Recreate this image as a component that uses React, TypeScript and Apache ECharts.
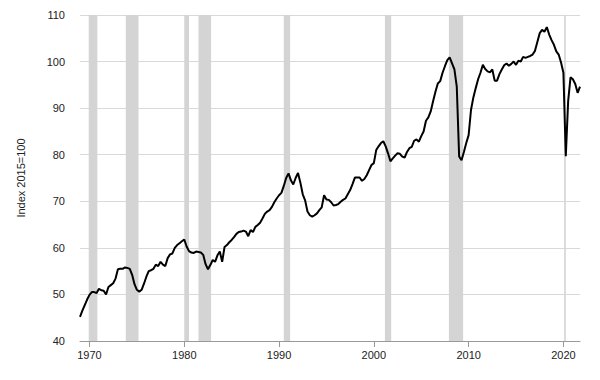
import React, { useEffect, useRef } from "react";
import * as echarts from "echarts";

// Quarterly index values (2015=100), first quarter 1969 Q1
const startYear = 1969;
const values: number[] = [
  45.2, 46.5, 47.7, 48.9,
  49.9, 50.5, 50.5, 50.3,
  51.2, 50.9, 50.8, 50.0,
  51.6, 52.0, 52.4, 53.4,
  55.4, 55.5, 55.5, 55.8,
  55.7, 55.5, 54.2, 52.2,
  51.0, 50.6, 51.0, 52.3,
  53.8, 55.0, 55.2, 55.5,
  56.4, 56.1, 57.0, 56.4,
  56.1, 57.8, 58.6, 58.8,
  60.0, 60.6, 61.0, 61.4,
  61.8, 60.3, 59.3, 59.0,
  58.9, 59.2, 59.1, 59.0,
  58.5, 56.5, 55.4, 56.3,
  57.4, 57.0, 58.4, 59.2,
  57.0, 60.2, 60.6, 61.2,
  61.7, 62.3, 63.0, 63.4,
  63.5, 63.7, 63.5, 62.5,
  63.8, 63.4, 64.5, 64.9,
  65.4, 66.3, 67.3, 67.8,
  68.1, 68.8, 69.8, 70.6,
  71.3, 71.8, 73.3, 75.0,
  76.0, 74.5, 73.6, 75.0,
  76.1, 74.0, 71.5, 70.2,
  67.8, 67.0, 66.7, 67.0,
  67.4, 68.1, 68.7, 71.3,
  70.4, 70.3, 69.8, 69.1,
  69.2, 69.4, 69.9, 70.3,
  70.6, 71.5, 72.4, 73.7,
  75.1, 75.1, 75.1, 74.4,
  74.8, 75.6, 76.7, 77.8,
  78.2, 81.0, 81.8, 82.5,
  82.9, 81.8, 80.3, 78.6,
  79.2, 79.8, 80.3, 80.2,
  79.6, 79.4, 80.6, 81.4,
  81.7, 83.0, 83.3, 82.8,
  84.0, 85.0, 87.3, 88.0,
  89.3, 91.5, 93.5, 95.3,
  95.8, 97.6, 99.0, 100.3,
  100.9, 99.6, 98.3, 94.6,
  79.6, 78.8, 80.6, 82.5,
  84.2, 89.6, 92.3, 94.3,
  96.2, 97.6, 99.3, 98.4,
  97.9, 97.7, 98.3, 95.9,
  95.9, 97.3, 98.3, 99.2,
  99.6, 99.1, 99.5, 100.0,
  99.3, 100.2, 100.0, 101.0,
  100.8, 101.0, 101.2, 101.5,
  102.3, 104.2, 106.1, 106.8,
  106.4, 107.4, 105.8, 104.6,
  103.6, 102.2, 101.5, 99.8,
  97.6, 79.7, 91.5, 96.6,
  96.2, 95.2, 93.3, 94.6,
];

// Recession periods (decimal years)
const recessionStarts = [1969.92, 1973.83, 1980.0, 1981.5, 1990.5, 2001.17, 2007.92, 2020.08];
const recessionEnds = [1970.83, 1975.17, 1980.5, 1981.5 + 1.33, 1991.17, 2001.83, 2009.42, 2020.25];

const xTicks = [1970, 1980, 1990, 2000, 2010, 2020];
const yAxisName = "Index 2015=100";

export default function App() {
  const ref = useRef<HTMLDivElement>(null);
  useEffect(() => {
    document.body.style.margin = "0";
    if (!ref.current) return;
    const chart = echarts.init(ref.current, undefined, { renderer: "svg" });
    const data = values.map((v, i) => [startYear + i * 0.25, v]);
    const areas = recessionStarts.map((s, i) => [{ xAxis: s }, { xAxis: recessionEnds[i] }]);
    chart.setOption({
      animation: false,
      backgroundColor: "#ffffff",
      grid: { left: 80, right: 20, top: 15, bottom: 39, containLabel: false },
      xAxis: {
        type: "value",
        min: startYear,
        max: startYear + (values.length - 1) * 0.25,
        splitLine: { show: false },
        axisLine: { show: true, lineStyle: { color: "#999999", width: 1 } },
        axisTick: {
          show: true,
          customValues: xTicks,
          length: 6,
          lineStyle: { color: "#999999" },
        },
        axisLabel: {
          customValues: xTicks,
          formatter: (v: number) => String(Math.round(v)),
          fontFamily: "Liberation Sans, Arial, sans-serif",
          fontSize: 11,
          color: "#222222",
          margin: 8,
        },
      },
      yAxis: {
        type: "value",
        min: 40,
        max: 110,
        interval: 10,
        name: yAxisName,
        nameLocation: "middle",
        nameGap: 54,
        nameTextStyle: {
          fontFamily: "Liberation Sans, Arial, sans-serif",
          fontSize: 11,
          color: "#222222",
        },
        axisLine: { show: false },
        axisTick: { show: false },
        splitLine: { show: true, lineStyle: { color: "#d9d9d9", width: 1 } },
        axisLabel: {
          fontFamily: "Liberation Sans, Arial, sans-serif",
          fontSize: 11,
          color: "#222222",
          margin: 15,
        },
      },
      series: [
        {
          type: "line",
          data,
          showSymbol: false,
          symbol: "none",
          lineStyle: { color: "#000000", width: 2 },
          markArea: {
            silent: true,
            itemStyle: { color: "#d4d4d4", opacity: 1 },
            data: areas,
          },
          z: 3,
        },
      ],
    });
    return () => chart.dispose();
  }, []);
  return <div ref={ref} style={{ width: 600, height: 380 }} />;
}
